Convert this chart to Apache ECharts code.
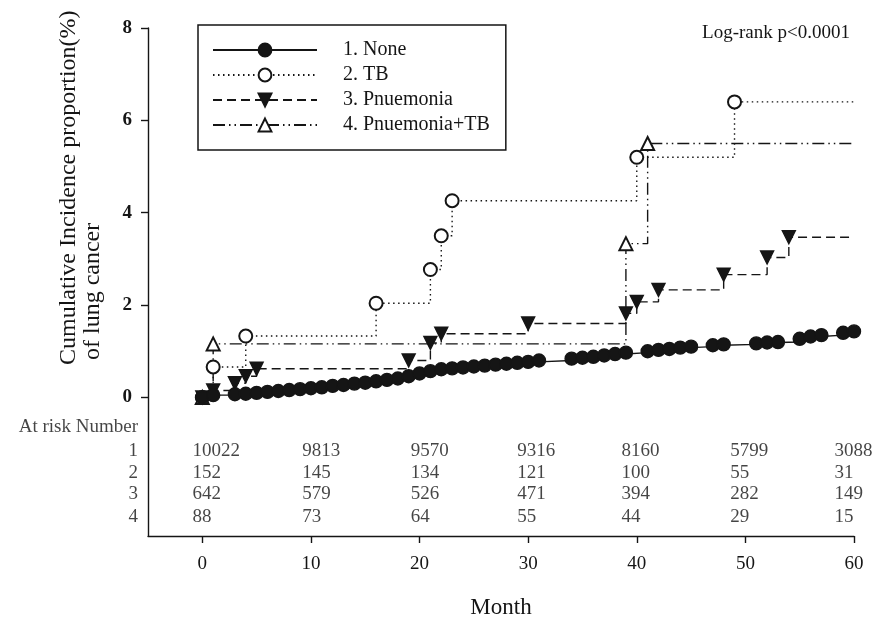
<!DOCTYPE html>
<html>
<head>
<meta charset="utf-8">
<script src="https://cdn.jsdelivr.net/npm/echarts@6/dist/echarts.min.js"></script>
<style>
  html, body { margin: 0; padding: 0; background: #fff; }
  #chart { width: 885px; height: 620px; }
</style>
</head>
<body>
<div id="chart"></div>
<script>
const FONT = "'Liberation Serif', 'Times New Roman', serif"
const INK = '#151515'

// cumulative incidence (%) by month, [month, value]
const noneData = [
  [0, 0], [1, 0.05], [3, 0.07], [4, 0.08], [5, 0.1], [6, 0.12], [7, 0.14], [8, 0.16], [9, 0.18],
  [10, 0.2], [11, 0.22], [12, 0.25], [13, 0.27], [14, 0.3], [15, 0.32], [16, 0.35], [17, 0.38],
  [18, 0.41], [19, 0.46], [20, 0.52], [21, 0.57], [22, 0.61], [23, 0.63], [24, 0.65], [25, 0.67],
  [26, 0.69], [27, 0.71], [28, 0.73], [29, 0.75], [30, 0.77], [31, 0.8], [34, 0.84], [35, 0.86],
  [36, 0.88], [37, 0.91], [38, 0.94], [39, 0.97], [41, 1.0], [42, 1.03], [43, 1.05], [44, 1.08],
  [45, 1.1], [47, 1.13], [48, 1.15], [51, 1.17], [52, 1.19], [53, 1.2], [55, 1.27], [56, 1.32],
  [57, 1.35], [59, 1.4], [60, 1.43]
]
const tbData = [
  [0, 0], [1, 0.66], [4, 1.33], [16, 2.04], [21, 2.77], [22, 3.5], [23, 4.26], [40, 5.2], [49, 6.4]
]
const pneuData = [
  [0, 0], [1, 0.15], [3, 0.31], [4, 0.46], [5, 0.62], [19, 0.8], [21, 1.18], [22, 1.38], [30, 1.6],
  [39, 1.82], [40, 2.07], [42, 2.33], [48, 2.66], [52, 3.03], [54, 3.47]
]
const pneuTbData = [
  [0, 0], [1, 1.16], [39, 3.33], [41, 5.5]
]
const followUpEnd = 60

const seriesNames = ['1. None', '2. TB', '3. Pnuemonia', '4. Pnuemonia+TB']

// at risk table
const riskMonths = [0, 10, 20, 30, 40, 50, 60]
const riskColumnX = [-0.9, 9.2, 19.2, 29.0, 38.6, 48.6, 58.2]
const riskRowLabels = ['1', '2', '3', '4']
const riskRowY = [-1.15, -1.63, -2.1, -2.58]
const riskHeaderY = -0.65
const riskCounts = [
  [10022, 9813, 9570, 9316, 8160, 5799, 3088],
  [152, 145, 134, 121, 100, 55, 31],
  [642, 579, 526, 471, 394, 282, 149],
  [88, 73, 64, 55, 44, 29, 15]
]

const xTicks = [0, 10, 20, 30, 40, 50, 60]
const yTicks = [0, 2, 4, 6, 8]

// carry last value to end of follow-up without a marker
function withTail(pts) {
  const last = pts[pts.length - 1]
  return pts.concat([{ value: [followUpEnd, last[1]], symbol: 'none' }])
}

function stepSeries(name, data, symbol, dash, extra) {
  return Object.assign({
    name,
    type: 'line',
    step: 'end',
    data: withTail(data),
    symbol,
    symbolSize: 13,
    showAllSymbol: true,
    lineStyle: { color: INK, width: 1.4, type: dash },
    itemStyle: { color: INK, borderColor: INK, borderWidth: 1.4 },
    z: 3,
    animation: false
  }, extra || {})
}

const tableData = []
riskCounts.forEach((row, r) => {
  row.forEach((n, c) => tableData.push([riskColumnX[c], riskRowY[r], String(n)]))
})
const rowLabelData = riskRowLabels.map((t, r) => [-5, riskRowY[r], t])
rowLabelData.push([-5, riskHeaderY, 'At risk Number'])

const textLabel = { color: INK, fontFamily: FONT, fontSize: 19 }

const chart = echarts.init(document.getElementById('chart'))
chart.setOption({
  backgroundColor: '#fff',
  animation: false,
  grid: { left: 148, right: 31, top: 28, bottom: 84, outerBoundsMode: 'none' },
  legend: {
    data: seriesNames,
    orient: 'vertical',
    left: 198,
    top: 25,
    padding: [15, 16, 15, 14],
    itemWidth: 104,
    itemHeight: 16,
    itemGap: 5,
    borderColor: INK,
    borderWidth: 1.5,
    textStyle: { color: INK, fontFamily: FONT, fontSize: 20, lineHeight: 20, padding: [0, 0, 0, 21] }
  },
  xAxis: {
    type: 'value',
    min: -5,
    max: 60,
    name: 'Month',
    nameLocation: 'middle',
    nameGap: 60,
    nameTextStyle: { color: INK, fontFamily: FONT, fontSize: 23 },
    axisLine: { onZero: false, lineStyle: { color: INK, width: 1.4 } },
    axisTick: { length: 7, lineStyle: { color: INK, width: 1.4 }, customValues: xTicks },
    axisLabel: { color: INK, fontFamily: FONT, fontSize: 19, margin: 19, customValues: xTicks },
    splitLine: { show: false }
  },
  yAxis: {
    type: 'value',
    min: -3,
    max: 8,
    axisLine: { show: true, onZero: false, lineStyle: { color: INK, width: 1.4 } },
    axisTick: { show: true, length: 7, lineStyle: { color: INK, width: 1.4 }, customValues: yTicks },
    axisLabel: { color: INK, fontFamily: FONT, fontSize: 19, fontWeight: 'bold', margin: 16, customValues: yTicks },
    splitLine: { show: false }
  },
  graphic: [
    {
      type: 'text', x: 69, y: 365, rotation: Math.PI / 2,
      style: { text: 'Cumulative Incidence proportion(%)', fill: INK, font: '24px ' + FONT, align: 'left', verticalAlign: 'middle' }
    },
    {
      type: 'text', x: 93, y: 360, rotation: Math.PI / 2,
      style: { text: 'of lung cancer', fill: INK, font: '24px ' + FONT, align: 'left', verticalAlign: 'middle' }
    },
    {
      type: 'text', right: 35, top: 24,
      style: { text: 'Log-rank p<0.0001', fill: INK, font: '19px ' + FONT }
    }
  ],
  series: [
    stepSeries(seriesNames[0], noneData, 'circle', 'solid', { z: 4 }),
    stepSeries(seriesNames[1], tbData, 'emptyCircle', [1.5, 3.5]),
    stepSeries(seriesNames[2], pneuData, 'triangle', [9, 5], { symbolRotate: 180 }),
    stepSeries(seriesNames[3], pneuTbData, 'emptyTriangle', [12, 4, 1.5, 4, 1.5, 4]),
    {
      type: 'scatter',
      silent: true,
      symbolSize: 0,
      data: tableData,
      label: Object.assign({ show: true, position: 'right', distance: 0, formatter: (p) => p.value[2] }, textLabel),
      animation: false
    },
    {
      type: 'scatter',
      silent: true,
      symbolSize: 0,
      data: rowLabelData,
      clip: false,
      label: Object.assign({ show: true, position: 'left', distance: 10, formatter: (p) => p.value[2] }, textLabel),
      animation: false
    }
  ]
})
</script>
</body>
</html>
